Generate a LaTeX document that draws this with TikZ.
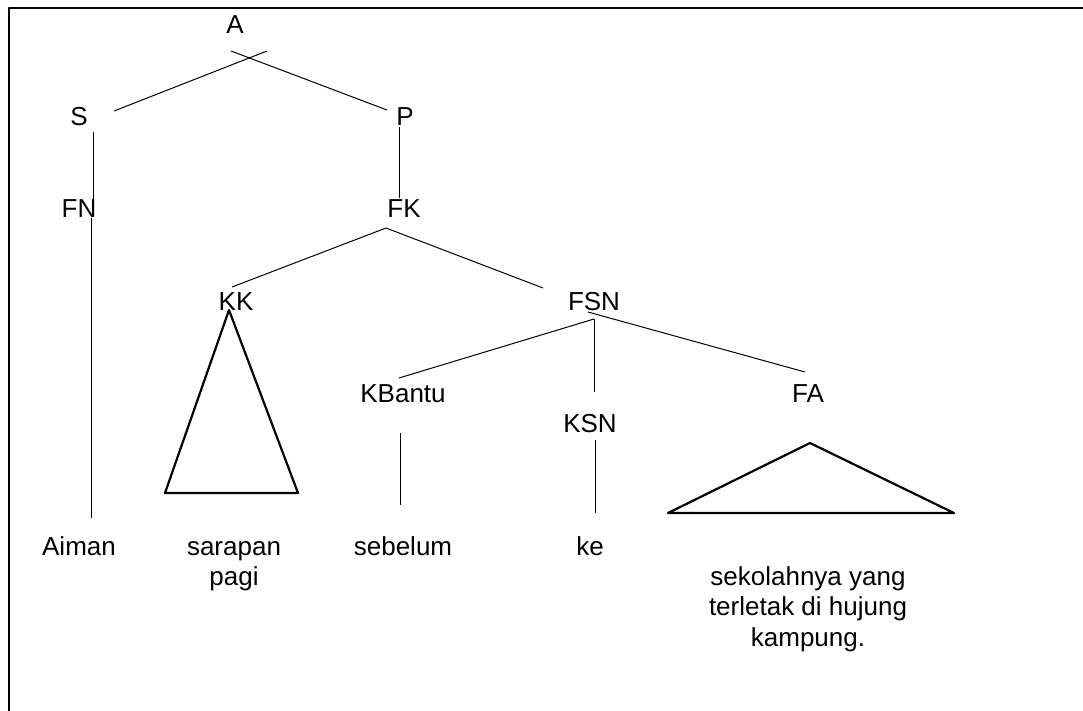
\documentclass[tikz,border=0pt]{standalone}
\usepackage{fontspec}
\setmainfont{Liberation Sans}
\begin{document}
\begin{tikzpicture}[x=1pt, y=-1pt, line join=round,
  lbl/.style={anchor=base, inner sep=0pt, font=\fontsize{26}{30.5}\selectfont, align=center},
  branch/.style={line width=1pt},
  tri/.style={line width=2.2pt}]
\useasboundingbox (0,0) rectangle (1083,710);
% frame
\draw[line width=2.5pt] (9,712) -- (9,8) -- (1085,8);
% labels
\node[lbl] (A) at (235,33) {A};
\node[lbl] (S) at (79,125) {S};
\node[lbl] (P) at (405,125) {P};
\node[lbl] (FN) at (79,217) {FN};
\node[lbl] (FK) at (404,217) {FK};
\node[lbl] (KK) at (236,310) {KK};
\node[lbl] (FSN) at (594,310) {FSN};
\node[lbl] (KBantu) at (403,402) {KBantu};
\node[lbl] (FA) at (808,402) {FA};
\node[lbl] (KSN) at (590,432) {KSN};
\node[lbl] (Aiman) at (79,555) {Aiman};
\node[lbl] (sarapan) at (234,585.5) {sarapan\\pagi};
\node[lbl] (sebelum) at (403,555) {sebelum};
\node[lbl] (ke) at (590,555) {ke};
\node[lbl] (sekolah) at (808,646) {sekolahnya yang\\terletak di hujung\\kampung.};
% branch ends
\coordinate (A-l) at (267,51);
\coordinate (A-r) at (231,51);
\coordinate (S-t) at (114,111);
\coordinate (P-t) at (387,110);
\coordinate (S-b) at (93,132);
\coordinate (FN-t) at (93,200);
\coordinate (P-b) at (399,127);
\coordinate (FK-t) at (399,198);
\coordinate (FN-b) at (91,218);
\coordinate (Aiman-t) at (91,518);
\coordinate (FK-b) at (386,228);
\coordinate (KK-t) at (232,287);
\coordinate (FSN-t) at (543,288);
\coordinate (FSN-b) at (594,319);
\coordinate (FSN-r) at (588,312);
\coordinate (KBantu-t) at (399,378);
\coordinate (KSN-t) at (594,392);
\coordinate (FA-t) at (805,372);
\coordinate (KBantu-b) at (400,433);
\coordinate (sebelum-t) at (400,505);
\coordinate (KSN-b) at (595,440);
\coordinate (ke-t) at (595,513);
\draw[branch] (A-l) -- (S-t);
\draw[branch] (A-r) -- (P-t);
\draw[branch] (S-b) -- (FN-t);
\draw[branch] (P-b) -- (FK-t);
\draw[branch] (FN-b) -- (Aiman-t);
\draw[branch] (FK-b) -- (KK-t);
\draw[branch] (FK-b) -- (FSN-t);
\draw[branch] (FSN-b) -- (KBantu-t);
\draw[branch] (FSN-b) -- (KSN-t);
\draw[branch] (FSN-r) -- (FA-t);
\draw[branch] (KBantu-b) -- (sebelum-t);
\draw[branch] (KSN-b) -- (ke-t);
% triangles
\draw[tri] (229,310) -- (298,493) -- (165,493) -- cycle;
\draw[tri] (810,443) -- (954,513) -- (668,513) -- cycle;
\end{tikzpicture}
\end{document}
